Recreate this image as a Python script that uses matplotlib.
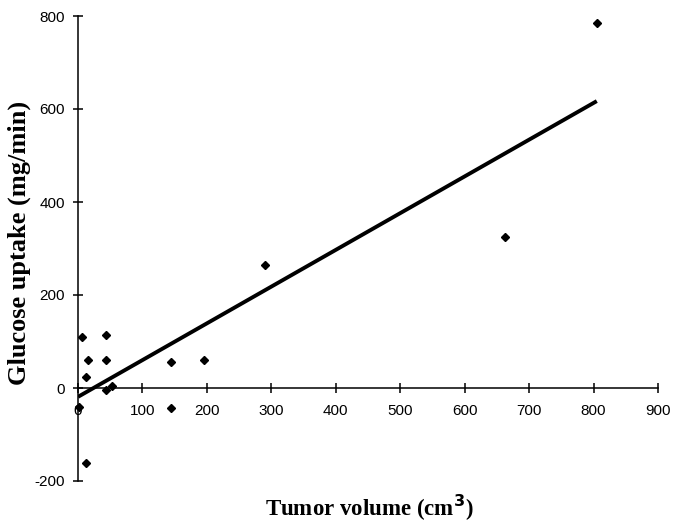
import matplotlib
matplotlib.use("Agg")
import matplotlib.pyplot as plt

# Data
tumor_volume = [805, 663, 290, 196, 145, 145, 6, 15, 13, 43, 43, 43, 52, 1, 12]
glucose_uptake = [786, 324, 264, 60, 56, -44, 110, 60, 24, 115, 61, -5, 4, -40, -161]
fit_x = [0, 805]
fit_y = [-19, 617]
x_ticks = [0, 100, 200, 300, 400, 500, 600, 700, 800, 900]
y_ticks = [-200, 0, 200, 400, 600, 800]

fig = plt.figure(figsize=(6.76, 5.25), dpi=100)
ax = fig.add_axes([78/676, 44/525, 580/676, 465/525])

ax.plot(fit_x, fit_y, color="black", lw=2.8, solid_capstyle="butt", zorder=2)
ax.plot(tumor_volume, glucose_uptake, linestyle="none", marker="D", markersize=4.4,
        color="black", clip_on=False, zorder=3)

ax.set_xlim(0, 900)
ax.set_ylim(-200, 800)
ax.spines["top"].set_visible(False)
ax.spines["right"].set_visible(False)
ax.spines["bottom"].set_position(("data", 0))
ax.spines["left"].set_linewidth(1.1)
ax.spines["bottom"].set_linewidth(1.1)

ax.set_xticks(x_ticks)
ax.set_yticks(y_ticks)
ax.set_xticklabels([str(v) for v in x_ticks], family="Liberation Sans", fontsize=11)
ax.set_yticklabels([str(v) for v in y_ticks], family="Liberation Sans", fontsize=11)
ax.tick_params(axis="both", direction="inout", length=7, width=1.1, colors="black")
ax.tick_params(axis="x", pad=8)
ax.tick_params(axis="y", pad=6)

fig.text(369/676, 1 - 516/525, "Tumor volume (cm$^{\\mathbf{3}}$)", ha="center", va="baseline",
         family="Liberation Serif", fontweight="bold", fontsize=16.5)
fig.text(19/676, 1 - 243/525, "Glucose uptake (mg/min)", ha="center", va="center",
         rotation=90, family="Liberation Serif", fontweight="bold", fontsize=19)

fig.savefig("out.png", dpi=100)
